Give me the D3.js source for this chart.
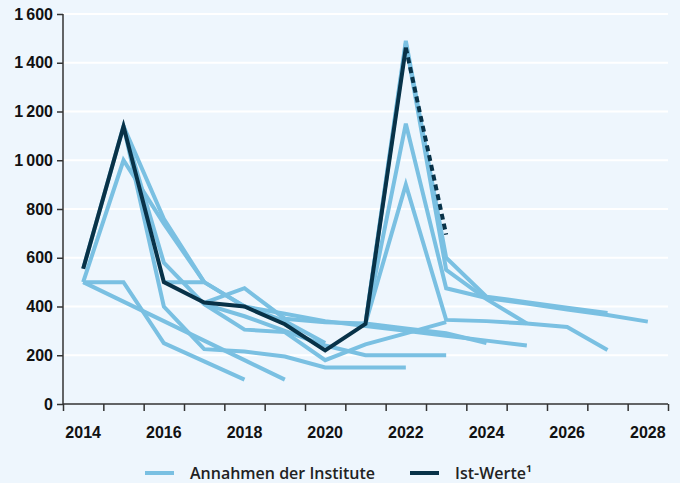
<!DOCTYPE html>
<html>
<head>
<meta charset="utf-8">
<script src="https://cdn.jsdelivr.net/npm/d3@7"></script>
<style>
  body { margin: 0; background: #eef6fd; }
  svg { display: block; font-family: "Open Sans", "Noto Sans", sans-serif; }
  .grid line { stroke: #fff; stroke-width: 2; }
  .axis path, .axis line { stroke: #333; stroke-width: 1.5; }
  .axis text { font-size: 16px; font-weight: 600; fill: #111; }
  .legend text { font-size: 16px; font-weight: 600; fill: #222; }
</style>
</head>
<body>
<div id="chart"></div>
<script>
var width = 680, height = 483;

// Ist-Werte (actual values)
var actualYears = [2014, 2015, 2016, 2017, 2018, 2019, 2020, 2021, 2022];
var actualValues = [555, 1139, 500, 416, 400, 327, 220, 329, 1462];
// preliminary (dashed)
var prelimYears = [2022, 2023];
var prelimValues = [1462, 695];

// Annahmen der Institute: one array of years + values per assumption
var assumptionYears = [
  [2014, 2015, 2016, 2017, 2018],
  [2014, 2015, 2016, 2017, 2018, 2019],
  [2014, 2015, 2016, 2017, 2018, 2019, 2020],
  [2014, 2015, 2016, 2017],
  [2016, 2017, 2018, 2019, 2020, 2021, 2022, 2023, 2024, 2025],
  [2015, 2016, 2017, 2018, 2019, 2020, 2021, 2022, 2023],
  [2015, 2016, 2017, 2018, 2019, 2020, 2021, 2022],
  [2017, 2018, 2019, 2020, 2021, 2022, 2023, 2024],
  [2017, 2018, 2019, 2020, 2021, 2022, 2023],
  [2021, 2022, 2023, 2024, 2025, 2026, 2027],
  [2021, 2022, 2023, 2024, 2025, 2026, 2027, 2028],
  [2021, 2022, 2023, 2024, 2025, 2026, 2027],
  [2021, 2022, 2023, 2024, 2025]
];
var assumptionValues = [
  [500, 500, 250, 175, 100],
  [500, 420, 340, 260, 180, 100],
  [500, 1000, 740, 500, 400, 340, 250],
  [555, 1140, 760, 500],
  [500, 500, 400, 370, 340, 320, 300, 280, 260, 240],
  [1140, 580, 410, 305, 295, 180, 245, 290, 336],
  [1140, 400, 225, 215, 195, 150, 150, 150],
  [415, 475, 350, 335, 330, 310, 290, 250],
  [410, 360, 300, 240, 200, 200, 200],
  [330, 900, 345, 340, 330, 316, 222],
  [330, 1150, 475, 435, 412, 388, 365, 338],
  [330, 1490, 600, 440, 418, 395, 373],
  [330, 1480, 550, 430, 330]
];

var yTicks = [0, 200, 400, 600, 800, 1000, 1200, 1400, 1600];
var xLabels = [2014, 2016, 2018, 2020, 2022, 2024, 2026, 2028];

var margin = {left: 63, right: 12, top: 14, bottom: 79};

var svg = d3.select("#chart").append("svg")
  .attr("width", width)
  .attr("height", height);

var x = d3.scaleLinear()
  .domain([2013.5, 2028.5])
  .range([margin.left, width - margin.right]);

var y = d3.scaleLinear()
  .domain([0, 1600])
  .range([height - margin.bottom, margin.top]);

var fmt = d3.formatLocale({decimal: ",", thousands: "\u2009", grouping: [3], currency: ["", ""]}).format(",d");

// grid
svg.append("g")
  .attr("class", "grid")
  .selectAll("line")
  .data(yTicks.slice(1))
  .enter().append("line")
    .attr("x1", x.range()[0])
    .attr("x2", x.range()[1])
    .attr("y1", y)
    .attr("y2", y);

var line = d3.line()
  .x(function(d) { return x(d[0]); })
  .y(function(d) { return y(d[1]); });

// assumptions
svg.append("g")
  .selectAll("path")
  .data(assumptionYears.map(function(yrs, i) {
    return yrs.map(function(yr, j) { return [yr, assumptionValues[i][j]]; });
  }))
  .enter().append("path")
    .attr("d", line)
    .attr("fill", "none")
    .attr("stroke", "#7ac0e2")
    .attr("stroke-width", 4)
    .attr("stroke-linejoin", "miter");

// actual values
svg.append("path")
  .datum(actualYears.map(function(yr, i) { return [yr, actualValues[i]]; }))
  .attr("d", line)
  .attr("fill", "none")
  .attr("stroke", "#083248")
  .attr("stroke-width", 4);

svg.append("path")
  .datum(prelimYears.map(function(yr, i) { return [yr, prelimValues[i]]; }))
  .attr("d", line)
  .attr("fill", "none")
  .attr("stroke", "#083248")
  .attr("stroke-width", 4)
  .attr("stroke-dasharray", "6,4");

// y axis
svg.append("g")
  .attr("class", "axis")
  .attr("transform", "translate(" + margin.left + ",0)")
  .call(d3.axisLeft(y).tickValues(yTicks).tickSize(6).tickPadding(4).tickFormat(fmt))
  .call(function(g) { g.select(".domain").attr("d", "M0," + y(1600) + "V" + y(0)); });

// x axis: ticks at year boundaries, labels every two years
var xAxis = svg.append("g")
  .attr("class", "axis")
  .attr("transform", "translate(0," + y(0) + ")")
  .call(d3.axisBottom(x).tickValues(d3.range(2013.5, 2029, 1)).tickSize(7).tickFormat(""))
  .call(function(g) { g.select(".domain").attr("d", "M" + x.range()[0] + ",0H" + x.range()[1]); });

xAxis.selectAll(".label")
  .data(xLabels)
  .enter().append("text")
    .attr("class", "label")
    .attr("x", x)
    .attr("y", 34)
    .attr("text-anchor", "middle")
    .text(function(d) { return d; });

// legend
var legend = svg.append("g")
  .attr("class", "legend")
  .attr("transform", "translate(0,473)");

var items = [
  {label: "Annahmen der Institute", color: "#7ac0e2", x: 145},
  {label: "Ist-Werte\u00b9", color: "#083248", x: 410}
];

var item = legend.selectAll("g")
  .data(items)
  .enter().append("g")
    .attr("transform", function(d) { return "translate(" + d.x + ",0)"; });

item.append("line")
  .attr("x1", 0)
  .attr("x2", 29)
  .attr("stroke", function(d) { return d.color; })
  .attr("stroke-width", 4);

item.append("text")
  .attr("x", 45)
  .attr("dy", "0.35em")
  .text(function(d) { return d.label; });
</script>
</body>
</html>
